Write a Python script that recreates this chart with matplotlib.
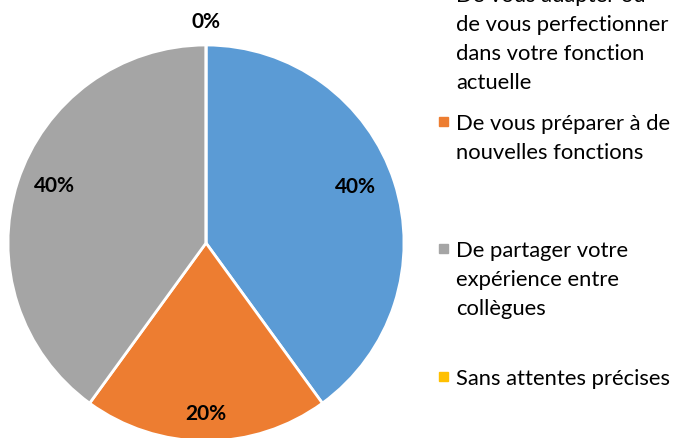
import numpy as np
import matplotlib.pyplot as plt

categories = [
    "De vous adapter ou\nde vous perfectionner\ndans votre fonction\nactuelle",
    "De vous préparer à de\nnouvelles fonctions",
    "De partager votre\nexpérience entre\ncollègues",
    "Sans attentes précises",
]
values = [40, 20, 40, 0]
colors = ["#5B9BD5", "#ED7D31", "#A5A5A5", "#FFC000"]

# where each % label sits: fraction of radius, and angle nudge in degrees
label_dist = [0.81, 0.86, 0.82, 1.12]
label_nudge = [3, 0, -3, 0]

plt.rcParams['font.family'] = ['Lato', 'DejaVu Sans']

W, H = 673, 439
fig = plt.figure(figsize=(W / 100, H / 100), dpi=100)

# pie placed in pixel terms: centre (206, 244), radius 198
cx, cy, r = 206, 244, 198
ax = fig.add_axes([(cx - r) / W, (H - cy - r) / H, 2 * r / W, 2 * r / H])
wedges, _ = ax.pie(values, colors=colors, startangle=90, counterclock=False,
                   radius=1, wedgeprops=dict(edgecolor='white', linewidth=2))
ax.set_xlim(-1, 1)
ax.set_ylim(-1, 1)
ax.set_aspect('auto')
ax.axis('off')
for w in wedges:
    w.set_clip_on(False)

total = sum(values)
for w, v, d, n in zip(wedges, values, label_dist, label_nudge):
    ang = np.deg2rad((w.theta1 + w.theta2) / 2 + n)
    ax.text(d * np.cos(ang), d * np.sin(ang), f"{v / total * 100:.0f}%",
            ha='center', va='center', fontsize=15, fontweight='bold',
            color='#000000', clip_on=False)

# legend drawn by hand in pixel coordinates (top entry is cut off as in the original)
lax = fig.add_axes([0, 0, 1, 1])
lax.set_xlim(0, W)
lax.set_ylim(H, 0)
lax.axis('off')
base0, step, line_h = 2, 127.7, 29
for i, (lab, c) in enumerate(zip(categories, colors)):
    b = base0 + i * step
    lax.add_patch(plt.Rectangle((439, b - 12), 9, 9, color=c))
    for j, line in enumerate(lab.split("\n")):
        lax.text(456, b + j * line_h, line, fontsize=15.8, color='#000000',
                 ha='left', va='baseline')

fig.savefig("out.png", dpi=100)
